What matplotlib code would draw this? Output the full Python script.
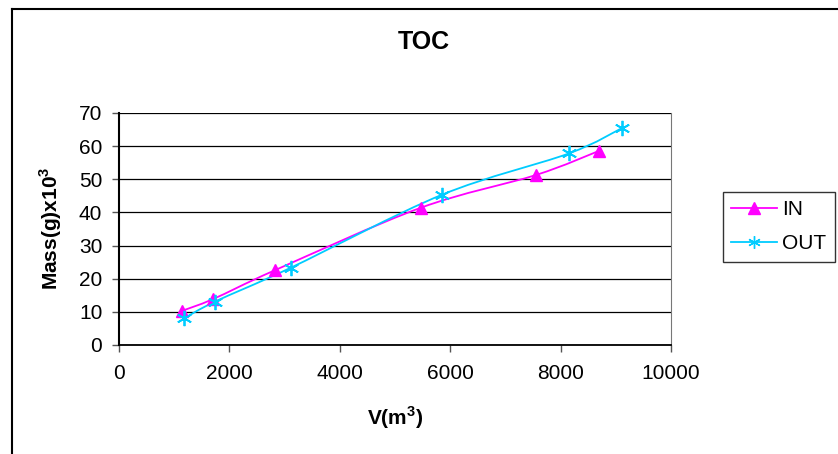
import numpy as np
import matplotlib
matplotlib.use('Agg')
import matplotlib.pyplot as plt
from matplotlib.path import Path
from matplotlib.patches import PathPatch
from matplotlib.lines import Line2D

# data
in_v = [1140, 1710, 2830, 5465, 7555, 8700]
in_mass = [10.3, 13.9, 22.6, 41.4, 51.3, 58.6]
out_v = [1185, 1740, 3110, 5845, 8150, 9105]
out_mass = [8.1, 13.1, 23.3, 45.3, 57.8, 65.4]

x_ticks = [0, 2000, 4000, 6000, 8000, 10000]
y_ticks = [0, 10, 20, 30, 40, 50, 60, 70]

plt.rcParams['font.family'] = ['Liberation Sans', 'DejaVu Sans']
plt.rcParams['mathtext.fontset'] = 'custom'
plt.rcParams['mathtext.rm'] = 'Liberation Sans'
plt.rcParams['mathtext.bf'] = 'Liberation Sans:bold'


def smooth_path(xs, ys):
    # excel style smoothed line: catmull-rom as cubic bezier
    pts = np.column_stack([xs, ys]).astype(float)
    n = len(pts)
    verts = [pts[0]]
    codes = [Path.MOVETO]
    for i in range(n - 1):
        p0 = pts[i - 1] if i > 0 else pts[i]
        p1 = pts[i]
        p2 = pts[i + 1]
        p3 = pts[i + 2] if i + 2 < n else pts[i + 1]
        c1 = p1 + (p2 - p0) / 6.0
        c2 = p2 - (p3 - p1) / 6.0
        verts += [c1, c2, p2]
        codes += [Path.CURVE4] * 3
    return Path(verts, codes)


fig = plt.figure(figsize=(8.38, 4.54), dpi=100)
ax = fig.add_axes([119 / 838, 109 / 454, 552 / 838, 232 / 454])

# outer chart border (left and top only visible)
fig.add_artist(Line2D([12 / 838, 12 / 838], [0, 1 - 9 / 454], color='black', lw=1.5, transform=fig.transFigure))
fig.add_artist(Line2D([12 / 838, 1], [1 - 9 / 454, 1 - 9 / 454], color='black', lw=1.5, transform=fig.transFigure))

magenta = '#FF00FF'
cyan = '#00CCFF'

ax.add_patch(PathPatch(smooth_path(in_v, in_mass), fill=False, edgecolor=magenta, lw=1.3, zorder=3))
ax.add_patch(PathPatch(smooth_path(out_v, out_mass), fill=False, edgecolor=cyan, lw=1.3, zorder=3))
ax.plot(in_v, in_mass, ls='none', marker='^', ms=8, color=magenta, zorder=4)
ax.plot(out_v, out_mass, ls='none', marker=(6, 2, 0), ms=11, mew=1.3, color=cyan, zorder=4)

ax.set_xlim(0, 10000)
ax.set_ylim(0, 70)
ax.set_xticks(x_ticks)
ax.set_yticks(y_ticks)
ax.tick_params(labelsize=15, length=5, width=1, color='#555555')
ax.tick_params(axis='x', pad=9)
ax.tick_params(axis='y', pad=7)
ax.yaxis.grid(True, color='black', lw=0.9)
ax.set_axisbelow(True)

ax.spines['left'].set_linewidth(1.5)
ax.spines['bottom'].set_linewidth(1.3)
ax.spines['right'].set_color('#777777')
ax.spines['top'].set_visible(False)

fig.text(424 / 838, 1 - 42 / 454, 'TOC', ha='center', va='center', fontsize=18, fontweight='bold')
fig.text(395 / 838, 1 - 418 / 454, 'V(m$^\\mathbf{3}$)', ha='center', va='center', fontsize=15, fontweight='bold')
fig.text(51 / 838, 1 - 228 / 454, 'Mass(g)x10$^\\mathbf{3}$', ha='center', va='center', fontsize=15,
         fontweight='bold', rotation=90)

handles = [
    Line2D([], [], color=magenta, lw=1.3, marker='^', ms=8),
    Line2D([], [], color=cyan, lw=1.3, marker=(6, 2, 0), ms=9),
]
leg = fig.legend(handles, ['IN', 'OUT'], loc='upper left', bbox_to_anchor=(723 / 838, 1 - 192 / 454),
                 fontsize=15, frameon=True, fancybox=False, edgecolor='black', handlelength=2.2,
                 borderpad=0.4, borderaxespad=0, labelspacing=0.72, handletextpad=0.25)
leg.get_frame().set_linewidth(1)

fig.savefig('out.png', dpi=100)
